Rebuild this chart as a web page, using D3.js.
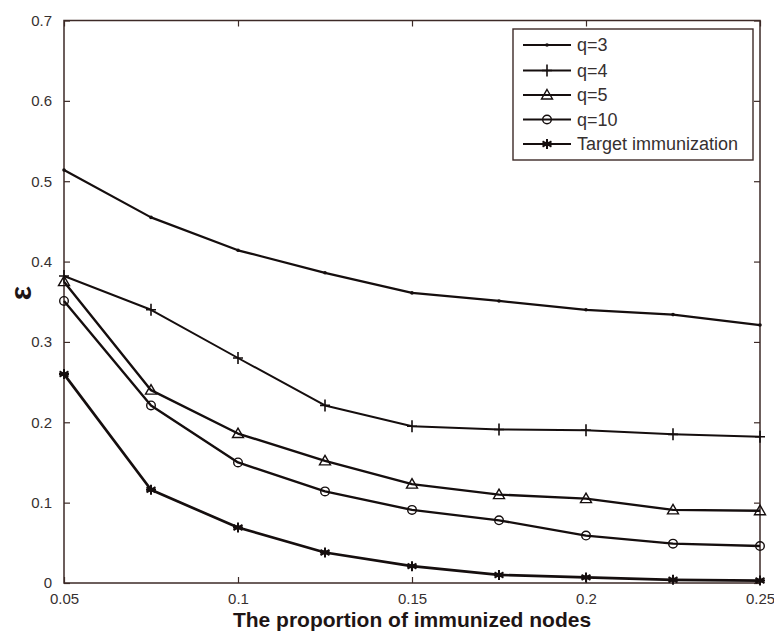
<!DOCTYPE html>
<html>
<head>
<meta charset="utf-8">
<script src="https://cdn.jsdelivr.net/npm/d3@7"></script>
<style>
  html, body { margin: 0; padding: 0; background: #fff; }
  svg { display: block; }
</style>
</head>
<body>
<svg id="chart" width="774" height="634"></svg>
<script>
// Proportion of immunized nodes (x) and epsilon threshold for each strategy
const proportions = [0.05, 0.075, 0.1, 0.125, 0.15, 0.175, 0.2, 0.225, 0.25];
const q3 = [0.514, 0.455, 0.414, 0.386, 0.361, 0.351, 0.340, 0.334, 0.321];
const q4 = [0.382, 0.340, 0.280, 0.221, 0.195, 0.191, 0.190, 0.185, 0.182];
const q5 = [0.375, 0.240, 0.186, 0.152, 0.123, 0.110, 0.105, 0.091, 0.090];
const q10 = [0.351, 0.221, 0.150, 0.114, 0.091, 0.078, 0.059, 0.049, 0.046];
const target = [0.260, 0.116, 0.069, 0.038, 0.021, 0.010, 0.007, 0.004, 0.003];

const seriesNames = ["q=3", "q=4", "q=5", "q=10", "Target immunization"];
const seriesMarkers = ["point", "plus", "triangle", "circle", "star"];
const seriesValues = [q3, q4, q5, q10, target];

const xTicks = [0.05, 0.1, 0.15, 0.2, 0.25];
const xTickLabels = ["0.05", "0.1", "0.15", "0.2", "0.25"];
const yTicks = [0, 0.1, 0.2, 0.3, 0.4, 0.5, 0.6, 0.7];
const yTickLabels = ["0", "0.1", "0.2", "0.3", "0.4", "0.5", "0.6", "0.7"];

const xLabel = "The proportion of immunized nodes";
const yLabel = "\u03b5";

const svg = d3.select("#chart");
const W = 774, H = 634;
const plot = { left: 64, right: 760, top: 20.5, bottom: 583 };

const axisColor = "#3d2a27";
const lineColor = "#150e0e";
const textColor = "#363030";
const font = "'Liberation Sans', Arial, sans-serif";

const x = d3.scaleLinear().domain([0.05, 0.25]).range([plot.left, plot.right]);
const y = d3.scaleLinear().domain([0, 0.7]).range([plot.bottom, plot.top]);

svg.append("rect").attr("width", W).attr("height", H).attr("fill", "#fff");

// Axes with inward ticks on all four sides (box style)
const tickLen = 6;
function styleAxis(g) {
  g.select(".domain").remove();
  g.selectAll(".tick line").attr("stroke", axisColor).attr("stroke-width", 1.2);
  g.selectAll(".tick text")
    .attr("fill", textColor)
    .style("font-family", font)
    .style("font-size", "15px");
}

const xBottom = svg.append("g")
  .attr("transform", `translate(0,${plot.bottom})`)
  .call(d3.axisBottom(x).tickValues(xTicks)
    .tickFormat((d, i) => xTickLabels[i])
    .tickSizeInner(-tickLen).tickSizeOuter(0).tickPadding(10));
styleAxis(xBottom);

const xTop = svg.append("g")
  .attr("transform", `translate(0,${plot.top})`)
  .call(d3.axisTop(x).tickValues(xTicks).tickFormat("")
    .tickSizeInner(-tickLen).tickSizeOuter(0));
styleAxis(xTop);

const yLeft = svg.append("g")
  .attr("transform", `translate(${plot.left},0)`)
  .call(d3.axisLeft(y).tickValues(yTicks)
    .tickFormat((d, i) => yTickLabels[i])
    .tickSizeInner(-tickLen).tickSizeOuter(0).tickPadding(12));
styleAxis(yLeft);

const yRight = svg.append("g")
  .attr("transform", `translate(${plot.right},0)`)
  .call(d3.axisRight(y).tickValues(yTicks).tickFormat("")
    .tickSizeInner(-tickLen).tickSizeOuter(0));
styleAxis(yRight);

// Plot box
svg.append("rect")
  .attr("x", plot.left).attr("y", plot.top)
  .attr("width", plot.right - plot.left).attr("height", plot.bottom - plot.top)
  .attr("fill", "none").attr("stroke", axisColor).attr("stroke-width", 1.5);

// Marker drawing
function drawMarker(g, type, cx, cy) {
  const m = g.append("g").attr("transform", `translate(${cx},${cy})`);
  if (type === "point") {
    m.append("circle").attr("r", 1.8).attr("fill", lineColor);
  } else if (type === "plus") {
    m.append("path").attr("d", "M-5,0H5M0,-6V6")
      .attr("stroke", lineColor).attr("stroke-width", 1.6).attr("fill", "none");
  } else if (type === "triangle") {
    m.append("path").attr("d", "M0,-5.5L5.5,4L-5.5,4Z")
      .attr("stroke", lineColor).attr("stroke-width", 1.4).attr("fill", "none");
  } else if (type === "circle") {
    m.append("circle").attr("r", 4.3)
      .attr("stroke", lineColor).attr("stroke-width", 1.4).attr("fill", "none");
  } else if (type === "star") {
    m.append("path").attr("d", "M0,-5V5M-4.5,-2.6L4.5,2.6M-4.5,2.6L4.5,-2.6M-5,0H5")
      .attr("stroke", lineColor).attr("stroke-width", 2).attr("fill", "none");
    m.append("circle").attr("r", 2.4).attr("fill", lineColor);
  }
}

const line = d3.line().x(d => x(d[0])).y(d => y(d[1]));
const lineWidths = [2.2, 2, 2.4, 2.4, 2.7];

seriesValues.forEach((vals, si) => {
  const pts = proportions.map((p, i) => [p, vals[i]]);
  svg.append("path")
    .datum(pts)
    .attr("d", line)
    .attr("fill", "none")
    .attr("stroke", lineColor)
    .attr("stroke-width", lineWidths[si])
    .attr("stroke-linejoin", "round");
  const mg = svg.append("g");
  pts.forEach(p => drawMarker(mg, seriesMarkers[si], x(p[0]), y(p[1])));
});

// Legend
const legend = { x: 513, y: 29, w: 240, h: 131 };
svg.append("rect")
  .attr("x", legend.x).attr("y", legend.y)
  .attr("width", legend.w).attr("height", legend.h)
  .attr("fill", "#fff").attr("stroke", axisColor).attr("stroke-width", 1.4);

const rowY = [45, 70.5, 95, 119.5, 144];
seriesNames.forEach((name, i) => {
  const g = svg.append("g");
  g.append("line")
    .attr("x1", 523).attr("x2", 571).attr("y1", rowY[i]).attr("y2", rowY[i])
    .attr("stroke", lineColor).attr("stroke-width", 2.2);
  drawMarker(g, seriesMarkers[i], 547, rowY[i]);
  g.append("text")
    .attr("x", 577).attr("y", rowY[i]).attr("dy", "0.35em")
    .attr("fill", textColor)
    .style("font-family", font).style("font-size", "18px")
    .text(name);
});

// Axis titles
svg.append("text")
  .attr("x", (plot.left + plot.right) / 2).attr("y", 627)
  .attr("text-anchor", "middle")
  .attr("fill", "#1e1515")
  .style("font-family", font).style("font-size", "21px").style("font-weight", "bold")
  .text(xLabel);

svg.append("text")
  .attr("transform", "translate(31,293) rotate(-90)")
  .attr("text-anchor", "middle")
  .attr("fill", "#1e1515")
  .style("font-family", font).style("font-size", "30px").style("font-weight", "bold")
  .text(yLabel);
</script>
</body>
</html>
